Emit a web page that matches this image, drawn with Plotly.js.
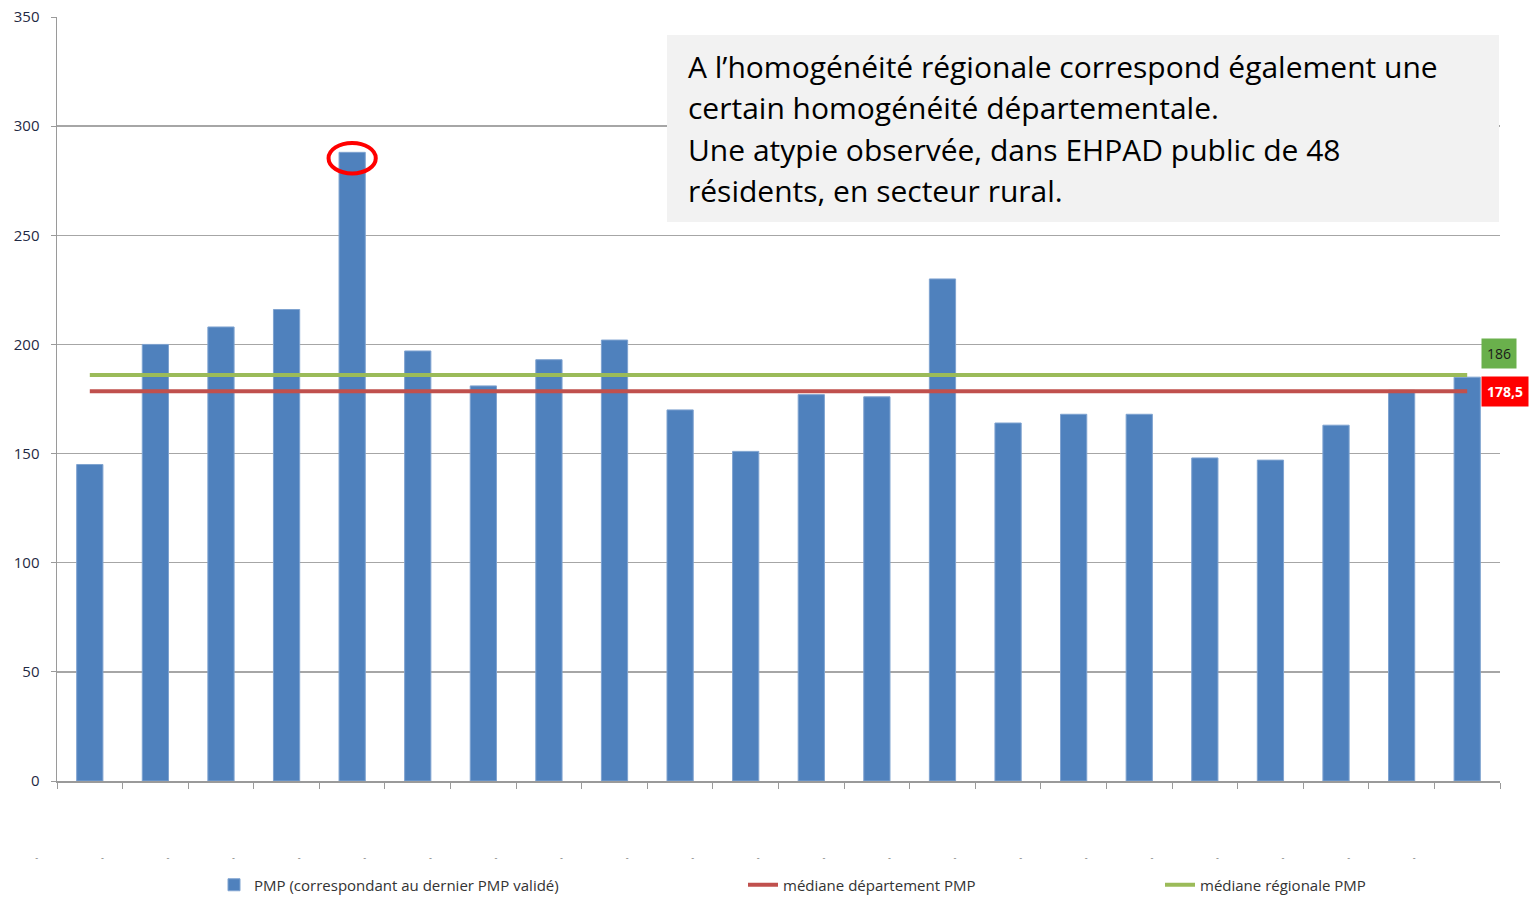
<!DOCTYPE html>
<html>
<head>
<meta charset="utf-8">
<script src="https://cdn.plot.ly/plotly-3.0.1.min.js"></script>
<style>html,body{margin:0;padding:0;background:#fff;}#chart{width:1535px;height:913px;}</style>
</head>
<body>
<div id="chart"></div>
<script>
// ---- data ----
const categories = ["E1","E2","E3","E4","E5","E6","E7","E8","E9","E10","E11","E12","E13","E14","E15","E16","E17","E18","E19","E20","E21","E22"];
const pmpValues = [145,200,208,216,288,197,181,193,202,170,151,177,176,230,164,168,168,148,147,163,179,185];
const medianDepartement = 178.5;
const medianRegionale = 186;
const medianDepartementLabel = "178,5";
const medianRegionaleLabel = "186";
const tickLabels = categories.map(() => "-");
const seriesNames = ["PMP (correspondant au dernier PMP validé)", "médiane département PMP", "médiane régionale PMP"];
const noteLines = [
  "A l\u2019homogénéité régionale correspond également une",
  "certain homogénéité départementale.",
  "Une atypie observée, dans EHPAD public de 48",
  "résidents, en secteur rural."
];

// ---- layout helpers (pixels -> paper) ----
const L = 57, R = 35, T = 17, B = 132, W = 1535, H = 913;
const PW = W - L - R, PH = H - T - B;
const px = p => (p - L) / PW;
const py = p => (H - B - p) / PH;

const font = "Open Sans, Noto Sans, sans-serif";

const traces = [
  { type: "bar", x: categories, y: pmpValues, name: seriesNames[0],
    marker: { color: "#4f81bd", line: { color: "#7fa3d0", width: 1 } }, legend: "legend" },
  { type: "scatter", mode: "lines", x: categories, y: categories.map(() => medianDepartement),
    name: seriesNames[1], line: { color: "#c0504d", width: 4 }, legend: "legend2" },
  { type: "scatter", mode: "lines", x: categories, y: categories.map(() => medianRegionale),
    name: seriesNames[2], line: { color: "#9bbb59", width: 4 }, legend: "legend3" }
];

const maxIdx = pmpValues.indexOf(Math.max(...pmpValues));
const maxVal = pmpValues[maxIdx];

const annotations = noteLines.map((t, i) => ({
  xref: "paper", yref: "paper", x: px(686), y: py(66 + i * 41.5),
  xanchor: "left", yanchor: "middle", text: t, showarrow: false,
  font: { family: font, size: 30, color: "#000" }
}));
annotations.push({
  xref: "paper", yref: "y", x: px(1481), y: medianRegionale, yshift: 21,
  xanchor: "left", yanchor: "middle", text: medianRegionaleLabel, showarrow: false,
  bgcolor: "#6ab04c", borderpad: 5, font: { family: font, size: 14, color: "#1a1a1a" }
});
annotations.push({
  xref: "paper", yref: "y", x: px(1481), y: medianDepartement,
  xanchor: "left", yanchor: "middle", text: "<b>" + medianDepartementLabel + "</b>", showarrow: false,
  bgcolor: "#ff0000", borderpad: 5, font: { family: font, size: 14, color: "#fff" }
});

const legendBase = { orientation: "h", yref: "paper", y: py(885), yanchor: "middle", xanchor: "left",
  bgcolor: "rgba(0,0,0,0)", font: { family: font, size: 15, color: "#333" } };

const layout = {
  width: W, height: H,
  margin: { l: L, r: R, t: T, b: B },
  paper_bgcolor: "#fff", plot_bgcolor: "#fff",
  bargap: 0.6,
  showlegend: true,
  legend: Object.assign({}, legendBase, { x: px(214) }),
  legend2: Object.assign({}, legendBase, { x: px(743) }),
  legend3: Object.assign({}, legendBase, { x: px(1160) }),
  xaxis: {
    type: "category", tickvals: categories, ticktext: tickLabels,
    tickson: "boundaries", ticks: "outside", ticklen: 6, tickcolor: "#9a9a9a",
    showline: true, linecolor: "#9a9a9a", linewidth: 1.5, showgrid: false,
    ticklabelshift: -53, ticklabelstandoff: 68,
    tickfont: { family: font, size: 9, color: "#777" }
  },
  yaxis: {
    range: [0, 350], dtick: 50, tick0: 0,
    ticks: "outside", ticklen: 5, tickcolor: "#9a9a9a",
    showline: true, linecolor: "#9a9a9a", linewidth: 1.5,
    showgrid: true, gridcolor: "#a6a6a6", gridwidth: 1.5, zeroline: false,
    ticklabelstandoff: 8,
    tickfont: { family: font, size: 15, color: "#1f2a44" }
  },
  shapes: [
    { type: "rect", xref: "paper", yref: "paper", x0: px(667), x1: px(1499), y0: py(222), y1: py(35),
      fillcolor: "#f2f2f2", line: { width: 0 }, layer: "above" },
    { type: "circle", xref: "x", yref: "y", x0: maxIdx - 0.36, x1: maxIdx + 0.36,
      y0: maxVal - 9.7, y1: maxVal + 4.3, line: { color: "#ff0000", width: 4 }, layer: "above" }
  ],
  annotations: annotations
};

Plotly.newPlot("chart", traces, layout, { displayModeBar: false, staticPlot: true });
</script>
</body>
</html>
